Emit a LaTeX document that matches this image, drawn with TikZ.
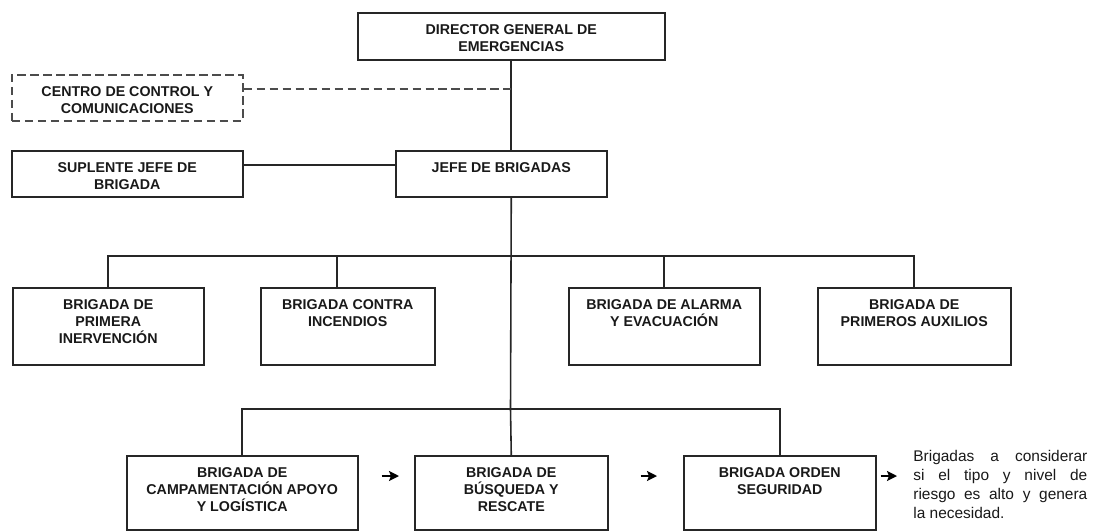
\documentclass[tikz,border=0pt]{standalone}
\usepackage{fontspec}
\setmainfont{Liberation Sans}
\usetikzlibrary{arrows.meta}
\newcommand{\orgtext}[3]{\parbox[c][#2][t]{#1}{\centering\rule{0pt}{0.44cm}#3}}

\begin{document}
\begin{tikzpicture}[x=0.02cm,y=-0.02cm,
  orgbox/.style={draw=black!85, line width=0.9pt, inner sep=0pt, anchor=north west, text=black!90, font=\bfseries\fontsize{8.1}{9.65}\selectfont},
  linkline/.style={draw=black!85, line width=0.9pt},
  flowarrow/.style={draw=black, line width=1.1pt, -{Stealth[length=0.2cm,width=0.2cm,inset=0.04cm]}}]
\useasboundingbox (0,0) rectangle (1095,531);

% top of the chart %
\node[orgbox] (dir) at (357,12) {\orgtext{6.14cm}{0.94cm}{DIRECTOR GENERAL DE\\EMERGENCIAS}};
\node[orgbox, draw=black!70, dash pattern=on 0.17cm off 0.09cm] (ctrl) at (11,74) {\orgtext{4.62cm}{0.92cm}{CENTRO DE CONTROL Y\\COMUNICACIONES}};
\node[orgbox] (sub) at (11,150) {\orgtext{4.62cm}{0.92cm}{SUPLENTE JEFE DE\\BRIGADA}};
\node[orgbox] (jefe) at (395,150) {\orgtext{4.22cm}{0.92cm}{JEFE DE BRIGADAS}};

% first row of brigades %
\node[orgbox] (prim) at (12,287) {\orgtext{3.82cm}{1.54cm}{BRIGADA DE\\PRIMERA\\INERVENCIÓN}};
\node[orgbox] (fire) at (260,287) {\orgtext{3.48cm}{1.54cm}{BRIGADA CONTRA\\INCENDIOS}};
\node[orgbox] (alarm) at (568,287) {\orgtext{3.82cm}{1.54cm}{BRIGADA DE ALARMA\\Y EVACUACIÓN}};
\node[orgbox] (aid) at (817,287) {\orgtext{3.86cm}{1.54cm}{BRIGADA DE\\PRIMEROS AUXILIOS}};

% second row of brigades %
\node[orgbox] (camp) at (126,455) {\orgtext{4.62cm}{1.49cm}{BRIGADA DE\\CAMPAMENTACIÓN APOYO\\Y LOGÍSTICA}};
\node[orgbox] (search) at (414,455) {\orgtext{3.86cm}{1.49cm}{BRIGADA DE\\BÚSQUEDA Y\\RESCATE}};
\node[orgbox] (order) at (683,455) {\orgtext{3.84cm}{1.49cm}{BRIGADA ORDEN\\SEGURIDAD}};
\node[anchor=base west, inner sep=0pt, text=black!90, font=\fontsize{8.8}{10.8}\selectfont] (note) at (913,461.5) {\parbox[t]{3.48cm}{\makebox[3.48cm][s]{Brigadas a considerar}\\\makebox[3.48cm][s]{si el tipo y nivel de}\\\makebox[3.48cm][s]{riesgo es alto y genera}\\la necesidad.}};

\coordinate (dashtap) at (510.5,89);
\coordinate (bus1) at (510.5,256);
\coordinate (bus2) at (510.5,409);
\coordinate (firetap) at (337,256);
\coordinate (arrowrow) at (0,476);

% main line %
\draw[linkline] (dir.south) -- (dir.south |- jefe.north);
\draw[linkline] (dir.south |- jefe.south) -- (bus2);
\draw[linkline, draw=black!70, dash pattern=on 0.17cm off 0.09cm] (ctrl.east |- dashtap) -- (dashtap);
\draw[linkline] ([yshift=0.18cm]sub.east) -- ([yshift=0.18cm]jefe.west);

% buses %
\draw[linkline] (prim.north) |- (bus1) -| (aid.north);
\draw[linkline] (firetap) -- (firetap |- fire.north);
\draw[linkline] (alarm.north) -- (alarm.north |- bus1);
\draw[linkline] (camp.north) |- (bus2) -| (order.north);
\draw[linkline] (search.north) -- (bus2);

% arrows between the last brigades %
\draw[flowarrow, shorten <=0.46cm, shorten >=0.30cm] (camp.east |- arrowrow) -- (search.west |- arrowrow);
\draw[flowarrow, shorten <=0.64cm, shorten >=0.52cm] (search.east |- arrowrow) -- (order.west |- arrowrow);
\draw[flowarrow, shorten <=0.08cm, shorten >=0.32cm] (order.east |- arrowrow) -- (note.west |- arrowrow);
\end{tikzpicture}
\end{document}
